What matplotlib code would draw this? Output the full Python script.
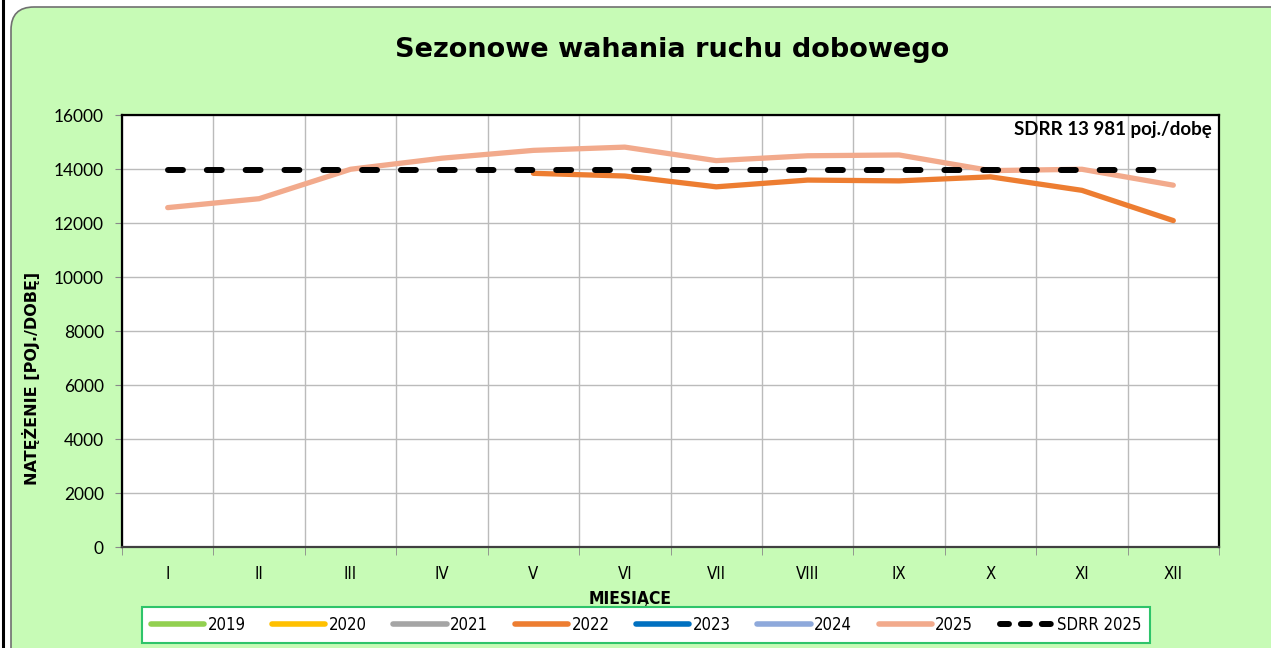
import matplotlib.pyplot as plt
from matplotlib.patches import FancyBboxPatch
from matplotlib.lines import Line2D
import numpy as np

months = ['I', 'II', 'III', 'IV', 'V', 'VI', 'VII', 'VIII', 'IX', 'X', 'XI', 'XII']
years = ['2019', '2020', '2021', '2022', '2023', '2024', '2025']
colors = ['#92D050', '#FFC000', '#A5A5A5', '#ED7D31', '#0070C0', '#8EA9DB', '#F2AA8C']

# dane (2022 dopiero od maja)
v2022 = [None, None, None, None, 13840, 13740, 13340, 13590, 13560, 13710, 13210, 12090]
v2025 = [12570, 12900, 13990, 14400, 14690, 14810, 14310, 14490, 14520, 13940, 13990, 13400]
sdrr = 13981

NARROW = {'family': 'DejaVu Sans', 'stretch': 'condensed'}
CAL = ['Lato', 'DejaVu Sans']

W, H = 1271, 648
fig = plt.figure(figsize=(W / 100, H / 100), dpi=100)
fig.patch.set_facecolor('white')

# tło: zaokrąglony zielony prostokąt + czarna linia po lewej
bg = FancyBboxPatch((11 / W, -0.1), 1.2, (H - 7) / H + 0.1,
                    boxstyle='round,pad=0,rounding_size=0.018',
                    transform=fig.transFigure, facecolor='#C7FBB6',
                    edgecolor='#707070', linewidth=1.2, mutation_aspect=W / H,
                    zorder=-10)
fig.patches.append(bg)
fig.add_artist(Line2D([2.5 / W, 2.5 / W], [0, 1], color='black', lw=2.2,
                      transform=fig.transFigure))

ax = fig.add_axes([122 / W, 1 - 547 / H, 1097 / W, 432 / H])
ax.set_facecolor('white')
x = np.arange(len(months))

y22 = np.array([np.nan if v is None else v for v in v2022], dtype=float)
ax.plot(x, y22, color=colors[3], lw=3.8, solid_capstyle='round', zorder=3)
ax.plot(x, v2025, color=colors[6], lw=3.8, solid_capstyle='round', zorder=3)
ax.plot(x, [sdrr] * len(months), color='black', lw=4.3,
        dashes=(2.5, 4), dash_capstyle='round', zorder=4)

ax.set_xlim(-0.5, len(months) - 0.5)
ax.set_ylim(0, 16000)
ax.set_yticks(np.arange(0, 16001, 2000))
ax.set_xticks(x)
ax.set_xticklabels(months, fontsize=12, **NARROW)
ax.set_xticks(np.arange(-0.5, len(months)), minor=True)
ax.tick_params(axis='x', which='major', length=0, pad=13)
ax.tick_params(axis='x', which='minor', length=6, color='#888888')
ax.tick_params(axis='y', length=5, color='#888888', pad=8)
for lab in ax.get_yticklabels():
    lab.set_family(CAL)
    lab.set_fontsize(12.5)
ax.grid(axis='y', color='#BBBBBB', lw=1)
ax.grid(axis='x', which='minor', color='#BBBBBB', lw=1)
for s in ax.spines.values():
    s.set_color('black')
    s.set_linewidth(1.6)
ax.spines['bottom'].set_color('#404040')

ax.text(0.993, 0.985, 'SDRR 13 981 poj./dobę', transform=ax.transAxes,
        ha='right', va='top', fontsize=13.5, fontweight='bold', family=CAL)

fig.text(672 / W, 1 - 50 / H, 'Sezonowe wahania ruchu dobowego',
         ha='center', va='center', fontsize=19.5, fontweight='bold')
fig.text(31 / W, 1 - 378 / H, 'NATĘŻENIE [POJ./DOBĘ]', rotation=90,
         ha='center', va='center', fontsize=11.5, fontweight='bold')
fig.text(630 / W, 1 - 599 / H, 'MIESIĄCE', ha='center', va='center',
         fontsize=12.5, fontweight='bold', **NARROW)

handles = [Line2D([], [], color=c, lw=4, solid_capstyle='round') for c in colors]
handles.append(Line2D([], [], color='black', lw=4.3, dashes=(1.5, 2),
                      dash_capstyle='round'))
leg = fig.legend(handles, years + ['SDRR 2025'], loc='center',
                 bbox_to_anchor=(646 / W, 1 - 625 / H), ncol=8, frameon=True,
                 fancybox=False, handlelength=3.2, handletextpad=0.2,
                 columnspacing=1.6, borderpad=0.55, framealpha=1,
                 prop={'size': 12, **NARROW})
leg.get_frame().set_edgecolor('#2EC46A')
leg.get_frame().set_linewidth(1.5)

plt.savefig('out.png', dpi=100)
